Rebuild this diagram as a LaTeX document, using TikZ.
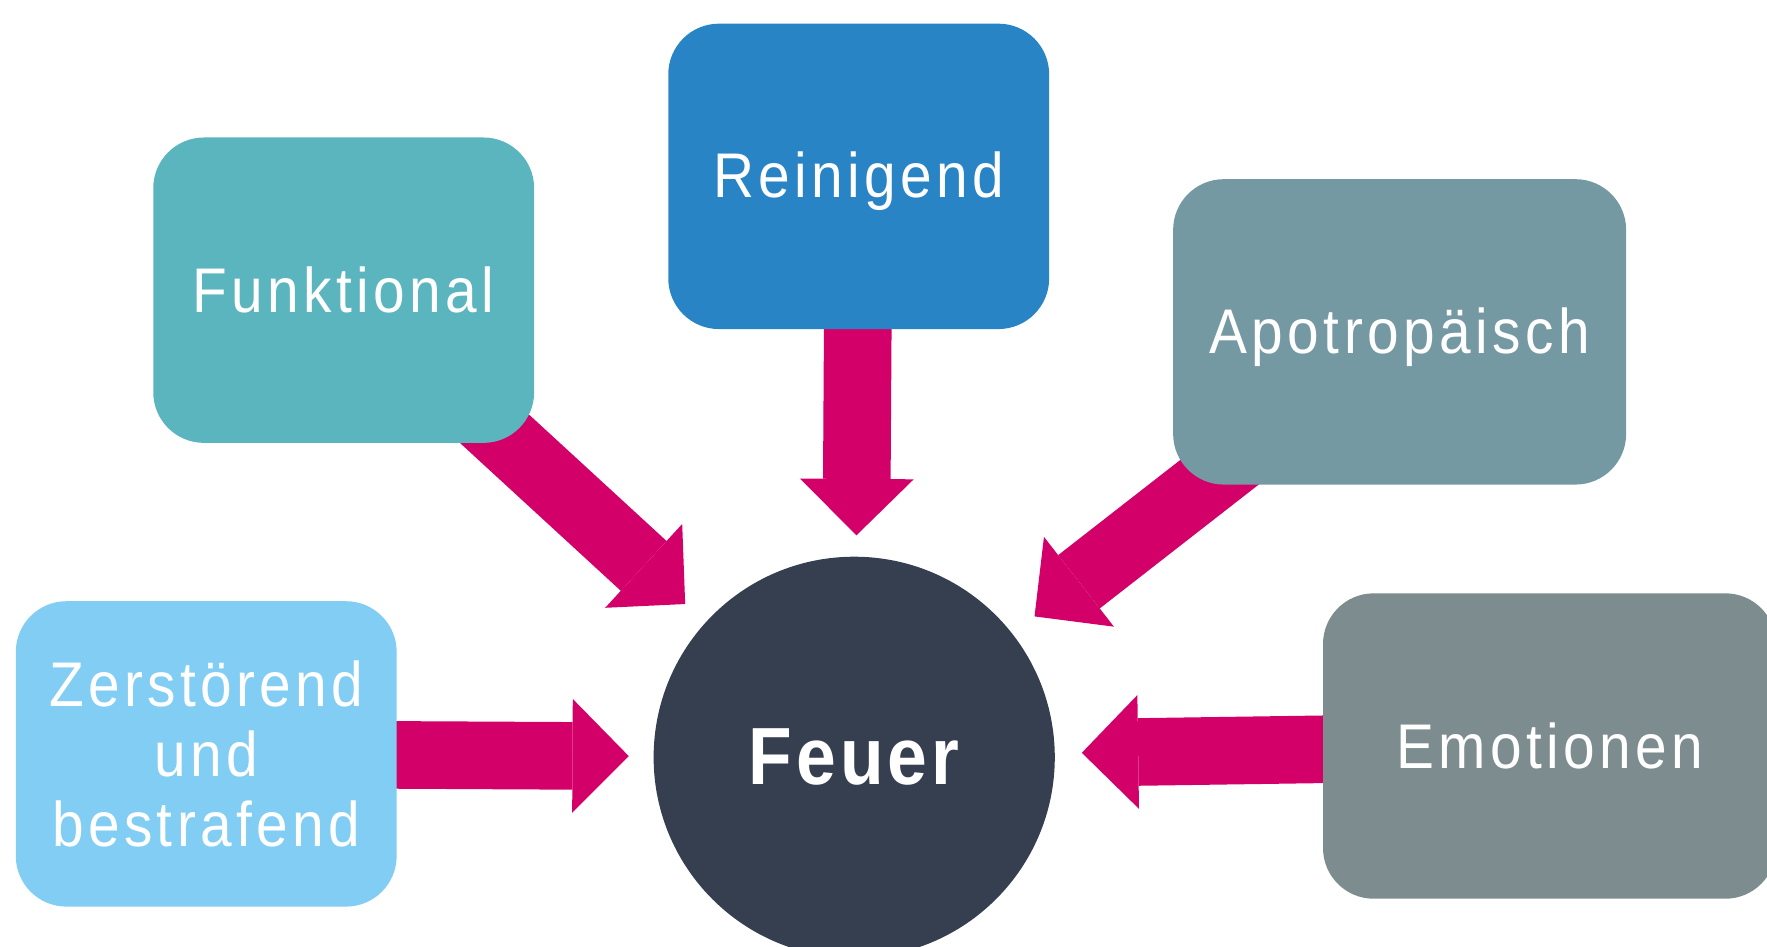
\documentclass[tikz,border=0pt]{standalone}
\usepackage{fontspec}
\setmainfont{Liberation Sans}
\newfontfamily\boxfont[FakeStretch=0.9,LetterSpace=7]{Liberation Sans}
\newfontfamily\feuerfont[FakeStretch=0.88,LetterSpace=5]{Liberation Sans}
\usetikzlibrary{arrows.meta,backgrounds}
\definecolor{cFunk}{HTML}{5BB5BF}
\definecolor{cRein}{HTML}{2884C5}
\definecolor{cApo}{HTML}{7599A3}
\definecolor{cZer}{HTML}{82CDF3}
\definecolor{cEmo}{HTML}{7D8C8F}
\definecolor{cMag}{HTML}{D4006A}
\definecolor{cFeuer}{HTML}{353F50}
\begin{document}
\begin{tikzpicture}[x=1pt,y=-1pt,
  box/.style={rectangle, rounded corners=45pt, minimum width=338pt, minimum height=271pt,
    inner sep=0pt, text=white, align=center, font=\boxfont\fontsize{56}{62}\selectfont},
  bigarrow/.style={draw=cMag, line width=60pt,
    -{Triangle[length=50pt,width=101pt,line width=0pt]}}]
\useasboundingbox (0,0) rectangle (1568,840);
\node[box, fill=cFunk] (funk) at (305,257.5) {Funktional};
\node[box, fill=cRein, text height=41pt, text depth=3pt] (rein) at (762,156.5) {Reinigend};
\node[box, fill=cApo, minimum width=402pt, text height=42pt, text depth=4pt] (apo) at (1242,294.5) {Apotropäisch};
\node[box, fill=cZer] (zer) at (183,669) {Zerstörend\\und\\bestrafend};
\node[box, fill=cEmo, minimum width=402pt] (emo) at (1375,662) {Emotionen};
\node[circle, fill=cFeuer, minimum size=356pt, inner sep=0pt, text=white,
  font=\feuerfont\bfseries\fontsize{72}{80}\selectfont] (feuer) at (758,672) {Feuer};
\coordinate (tFunk) at (608,536);
\coordinate (tRein) at (760,475);
\coordinate (tApo) at (918,547);
\coordinate (tZer) at (558,671);
\coordinate (tEmo) at (960,668);
\begin{scope}[on background layer]
\draw[bigarrow] (funk.center) -- (tFunk);
\draw[bigarrow] (rein.center) -- (tRein);
\draw[bigarrow] (apo.center) -- (tApo);
\draw[bigarrow] (zer.center) -- (tZer);
\draw[bigarrow] (emo.center) -- (tEmo);
\end{scope}
\end{tikzpicture}
\end{document}
